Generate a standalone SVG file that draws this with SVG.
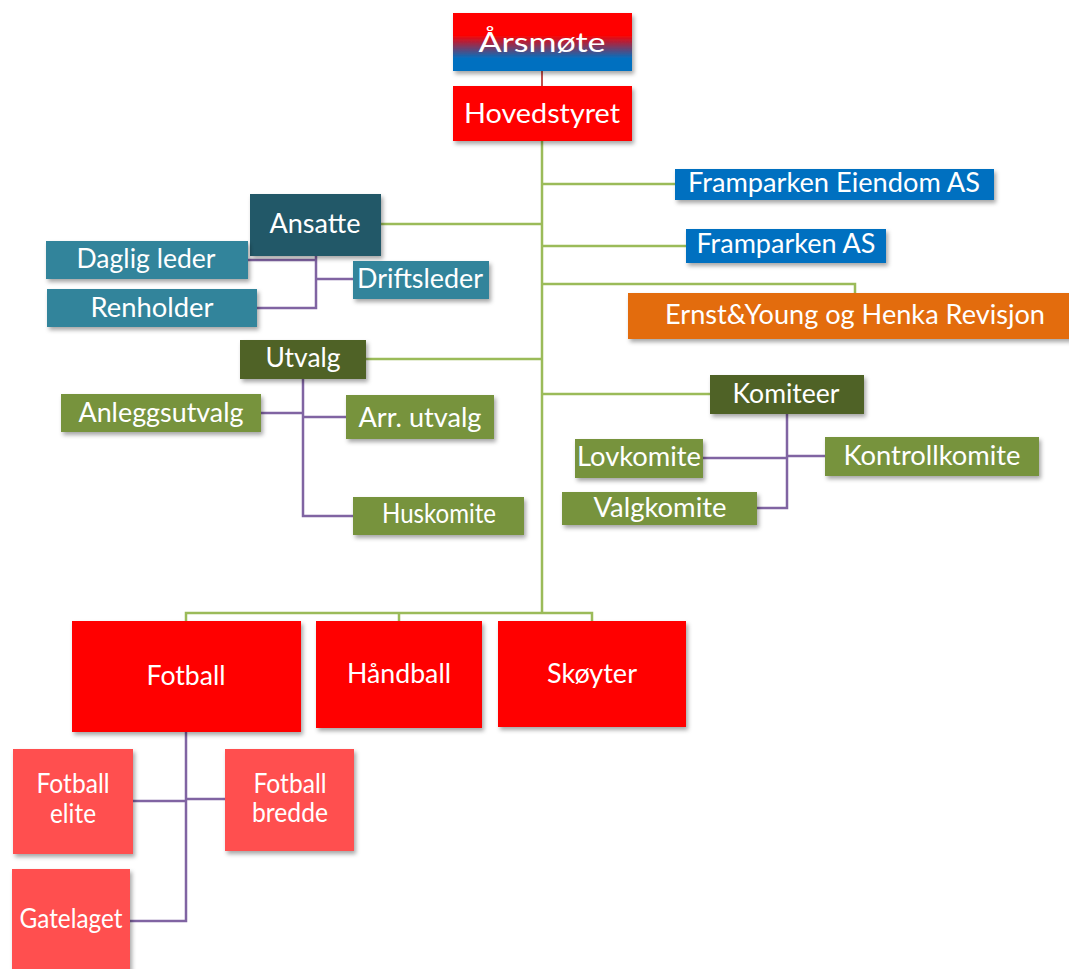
<svg xmlns="http://www.w3.org/2000/svg" width="1069" height="969" viewBox="0 0 1069 969">
<defs>
<linearGradient id="gArs" x1="0" y1="0" x2="0" y2="1">
<stop offset="0" stop-color="#FF0000"/>
<stop offset="0.38" stop-color="#FF0000"/>
<stop offset="0.78" stop-color="#0070C0"/>
<stop offset="1" stop-color="#0070C0"/>
</linearGradient>
<filter id="sh" x="-10%" y="-20%" width="125%" height="150%">
<feDropShadow dx="2" dy="3" stdDeviation="2" flood-color="#000" flood-opacity="0.35"/>
</filter>
<style>
text{font-family:Lato,"Open Sans","Noto Sans",sans-serif;fill:#fff;text-anchor:middle;font-size:26px}
rect{filter:url(#sh)}
.red{fill:#FF0000}
.blue{fill:#0070C0}
.orange{fill:#E36C09}
.teal{fill:#215968}
.teal2{fill:#31849B}
.olive{fill:#4F6228}
.green{fill:#77933C}
.pink{fill:#FF5050}
.cg{stroke:#9BBB59;stroke-width:2.5;fill:none}
.cp{stroke:#8064A2;stroke-width:2.5;fill:none}
.cr{stroke:#C0504D;stroke-width:2;fill:none}
</style>
</defs>
<g id="connectors">
<line class="cr" x1="542" y1="71" x2="542" y2="86"/>
<polyline class="cg" points="542,141 542,613"/>
<line class="cg" x1="542" y1="184" x2="675" y2="184"/>
<line class="cg" x1="542" y1="246" x2="686" y2="246"/>
<polyline class="cg" points="542,284 855,284 855,293"/>
<line class="cg" x1="381" y1="224" x2="542" y2="224"/>
<line class="cg" x1="366" y1="359" x2="542" y2="359"/>
<line class="cg" x1="542" y1="394" x2="710" y2="394"/>
<polyline class="cg" points="186,621 186,613 592,613 592,621"/>
<line class="cg" x1="399" y1="613" x2="399" y2="621"/>
<polyline class="cp" points="316,256 316,308 257,308"/>
<line class="cp" x1="248" y1="260" x2="316" y2="260"/>
<line class="cp" x1="316" y1="279" x2="353" y2="279"/>
<polyline class="cp" points="303,379 303,516 353,516"/>
<line class="cp" x1="261" y1="413" x2="303" y2="413"/>
<line class="cp" x1="303" y1="417" x2="346" y2="417"/>
<polyline class="cp" points="787,414 787,508 757,508"/>
<line class="cp" x1="703" y1="458" x2="787" y2="458"/>
<line class="cp" x1="787" y1="456" x2="825" y2="456"/>
<polyline class="cp" points="186,732 186,921 130,921"/>
<line class="cp" x1="133" y1="801" x2="186" y2="801"/>
<line class="cp" x1="186" y1="799" x2="225" y2="799"/>
</g>
<g id="arsmote"><rect x="453" y="13" width="179" height="58" fill="url(#gArs)"/><text x="542" y="52" font-size="36" textLength="127" lengthAdjust="spacingAndGlyphs">Årsmøte</text></g>
<g id="hovedstyret"><rect class="red" x="453" y="86" width="179" height="55"/><text x="542" y="123" font-size="30" textLength="156" lengthAdjust="spacingAndGlyphs">Hovedstyret</text></g>
<g id="framparken-eiendom"><rect class="blue" x="675" y="169" width="319" height="31"/><text x="834" y="192" textLength="292" lengthAdjust="spacingAndGlyphs">Framparken Eiendom AS</text></g>
<g id="framparken-as"><rect class="blue" x="686" y="229" width="200" height="34"/><text x="786" y="253" textLength="179" lengthAdjust="spacingAndGlyphs">Framparken AS</text></g>
<g id="ernst-young"><rect class="orange" x="628" y="293" width="445" height="46"/><text x="855" y="324" textLength="380" lengthAdjust="spacingAndGlyphs">Ernst&amp;Young og Henka Revisjon</text></g>
<g id="ansatte"><rect class="teal" x="250" y="194" width="131" height="62"/><text x="315" y="233" textLength="91" lengthAdjust="spacingAndGlyphs">Ansatte</text></g>
<g id="daglig-leder"><rect class="teal2" x="46" y="241" width="202" height="38"/><text x="146" y="268" textLength="139" lengthAdjust="spacingAndGlyphs">Daglig leder</text></g>
<g id="renholder"><rect class="teal2" x="47" y="289" width="210" height="38"/><text x="152" y="317" textLength="123" lengthAdjust="spacingAndGlyphs">Renholder</text></g>
<g id="driftsleder"><rect class="teal2" x="353" y="261" width="136" height="38"/><text x="420" y="288" textLength="126" lengthAdjust="spacingAndGlyphs">Driftsleder</text></g>
<g id="utvalg"><rect class="olive" x="240" y="340" width="126" height="39"/><text x="303" y="367" textLength="75" lengthAdjust="spacingAndGlyphs">Utvalg</text></g>
<g id="anleggsutvalg"><rect class="green" x="61" y="394" width="200" height="38"/><text x="161" y="422" textLength="165" lengthAdjust="spacingAndGlyphs">Anleggsutvalg</text></g>
<g id="arr-utvalg"><rect class="green" x="346" y="395" width="148" height="44"/><text x="420" y="427" textLength="123" lengthAdjust="spacingAndGlyphs">Arr. utvalg</text></g>
<g id="huskomite"><rect class="green" x="353" y="497" width="171" height="38"/><text x="439" y="523" font-size="24" textLength="114" lengthAdjust="spacingAndGlyphs">Huskomite</text></g>
<g id="komiteer"><rect class="olive" x="710" y="375" width="154" height="39"/><text x="786" y="403" textLength="107" lengthAdjust="spacingAndGlyphs">Komiteer</text></g>
<g id="lovkomite"><rect class="green" x="575" y="439" width="128" height="39"/><text x="639" y="466" textLength="124" lengthAdjust="spacingAndGlyphs">Lovkomite</text></g>
<g id="kontrollkomite"><rect class="green" x="825" y="437" width="214" height="39"/><text x="932" y="465" textLength="177" lengthAdjust="spacingAndGlyphs">Kontrollkomite</text></g>
<g id="valgkomite"><rect class="green" x="562" y="492" width="195" height="33"/><text x="660" y="517" textLength="133" lengthAdjust="spacingAndGlyphs">Valgkomite</text></g>
<g id="fotball"><rect class="red" x="72" y="621" width="229" height="111"/><text x="186" y="685" textLength="79" lengthAdjust="spacingAndGlyphs">Fotball</text></g>
<g id="handball"><rect class="red" x="316" y="621" width="166" height="107"/><text x="399" y="683" textLength="104" lengthAdjust="spacingAndGlyphs">Håndball</text></g>
<g id="skoyter"><rect class="red" x="498" y="621" width="188" height="106"/><text x="592" y="683" textLength="90" lengthAdjust="spacingAndGlyphs">Skøyter</text></g>
<g id="fotball-elite"><rect class="pink" x="13" y="749" width="120" height="105"/><text x="73" y="793" font-size="24" textLength="73" lengthAdjust="spacingAndGlyphs">Fotball</text><text x="73" y="823" font-size="24" textLength="46" lengthAdjust="spacingAndGlyphs">elite</text></g>
<g id="fotball-bredde"><rect class="pink" x="225" y="749" width="129" height="102"/><text x="290" y="793" font-size="24" textLength="73" lengthAdjust="spacingAndGlyphs">Fotball</text><text x="290" y="822" font-size="24" textLength="76" lengthAdjust="spacingAndGlyphs">bredde</text></g>
<g id="gatelaget"><rect class="pink" x="12" y="869" width="118" height="104"/><text x="71" y="928" font-size="24" textLength="103" lengthAdjust="spacingAndGlyphs">Gatelaget</text></g>
</svg>
